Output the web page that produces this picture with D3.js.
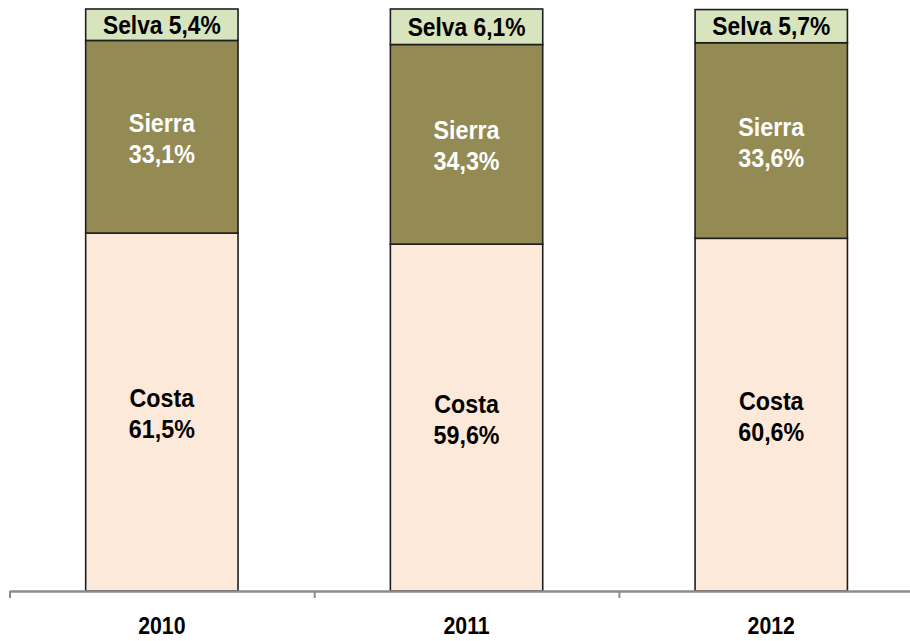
<!DOCTYPE html>
<html>
<head>
<meta charset="utf-8">
<script src="https://cdn.jsdelivr.net/npm/d3@7"></script>
<style>
  body { margin: 0; background: #fff; }
  text { font-family: "Liberation Sans", Arial, sans-serif; font-weight: bold; }
</style>
</head>
<body>
<svg id="chart" width="910" height="641"></svg>
<script>
// data (percent of total, by region)
var years = ["2010", "2011", "2012"];
var regions = ["Costa", "Sierra", "Selva"];
var costa = [61.5, 59.6, 60.6];
var sierra = [33.1, 34.3, 33.6];
var selva = [5.4, 6.1, 5.7];

var colors = { Costa: "#fde9d9", Sierra: "#948a54", Selva: "#d7e4bd" };
var textColors = { Costa: "#000", Sierra: "#fff", Selva: "#000" };

var rows = years.map(function(y, i) {
  return { year: y, Costa: costa[i], Sierra: sierra[i], Selva: selva[i] };
});

var svg = d3.select("#chart");

// x: band scale for bars, linear scale for boundary ticks
var x = d3.scaleBand()
    .domain(years)
    .range([9.5, 923.6])
    .paddingInner(0.5)
    .paddingOuter(0.25);

var xEdge = d3.scaleLinear()
    .domain([0, years.length])
    .range([9.5, 923.6]);

var y = d3.scaleLinear()
    .domain([0, 100])
    .range([591, 9]);

var stacked = d3.stack().keys(regions)(rows);

// bars
var layers = svg.append("g")
  .selectAll("g")
  .data(stacked)
  .enter().append("g")
    .attr("fill", function(d) { return colors[d.key]; });

layers.selectAll("rect")
  .data(function(d) { return d; })
  .enter().append("rect")
    .attr("x", function(d) { return x(d.data.year); })
    .attr("y", function(d) { return y(d[1]); })
    .attr("width", x.bandwidth())
    .attr("height", function(d) { return y(d[0]) - y(d[1]); })
    .attr("stroke", "#1e1e1e")
    .attr("stroke-width", 1.6);

// labels (text is a bit tall/narrow in the original, so stretch it)
var stretch = "scale(0.97,1.1)";
stacked.forEach(function(layer) {
  layer.forEach(function(d) {
    var cx = x(d.data.year) + x.bandwidth() / 2;
    var cy = (y(d[0]) + y(d[1])) / 2;
    var val = d3.format(".1f")(d.data[layer.key]).replace(".", ",") + "%";
    var lines = layer.key === "Selva" ? [layer.key + " " + val] : [layer.key, val];
    var base = layer.key === "Selva" ? [cy + 9] : [cy - 5, cy + 26];
    lines.forEach(function(s, k) {
      svg.append("text")
          .attr("transform", "translate(" + cx + "," + base[k] + ") " + stretch)
          .attr("text-anchor", "middle")
          .attr("fill", textColors[layer.key])
          .attr("font-size", layer.key === "Selva" ? "23.5px" : "24px")
          .text(s);
    });
  });
});

// axis line with ticks at category boundaries
var edgeAxis = d3.axisBottom(xEdge)
    .tickValues(d3.range(years.length + 1))
    .tickFormat("")
    .tickSizeInner(7)
    .tickSizeOuter(0);

var gEdge = svg.append("g")
    .attr("transform", "translate(0," + y(0) + ")")
    .call(edgeAxis);
gEdge.select(".domain").attr("stroke", "#8c8c8c").attr("stroke-width", 2.5);
gEdge.selectAll(".tick line").attr("stroke", "#8c8c8c").attr("stroke-width", 2);

// year labels
var labelAxis = d3.axisBottom(x).tickSize(0).tickPadding(0);
var gLab = svg.append("g")
    .attr("transform", "translate(0," + y(0) + ")")
    .call(labelAxis);
gLab.select(".domain").remove();
gLab.selectAll("text")
    .attr("dy", null)
    .attr("y", 0)
    .attr("transform", "translate(0,43) scale(0.97,1.12)")
    .attr("font-size", "22px")
    .attr("font-family", "'Liberation Sans', Arial, sans-serif")
    .attr("font-weight", "bold")
    .attr("fill", "#000");
</script>
</body>
</html>
